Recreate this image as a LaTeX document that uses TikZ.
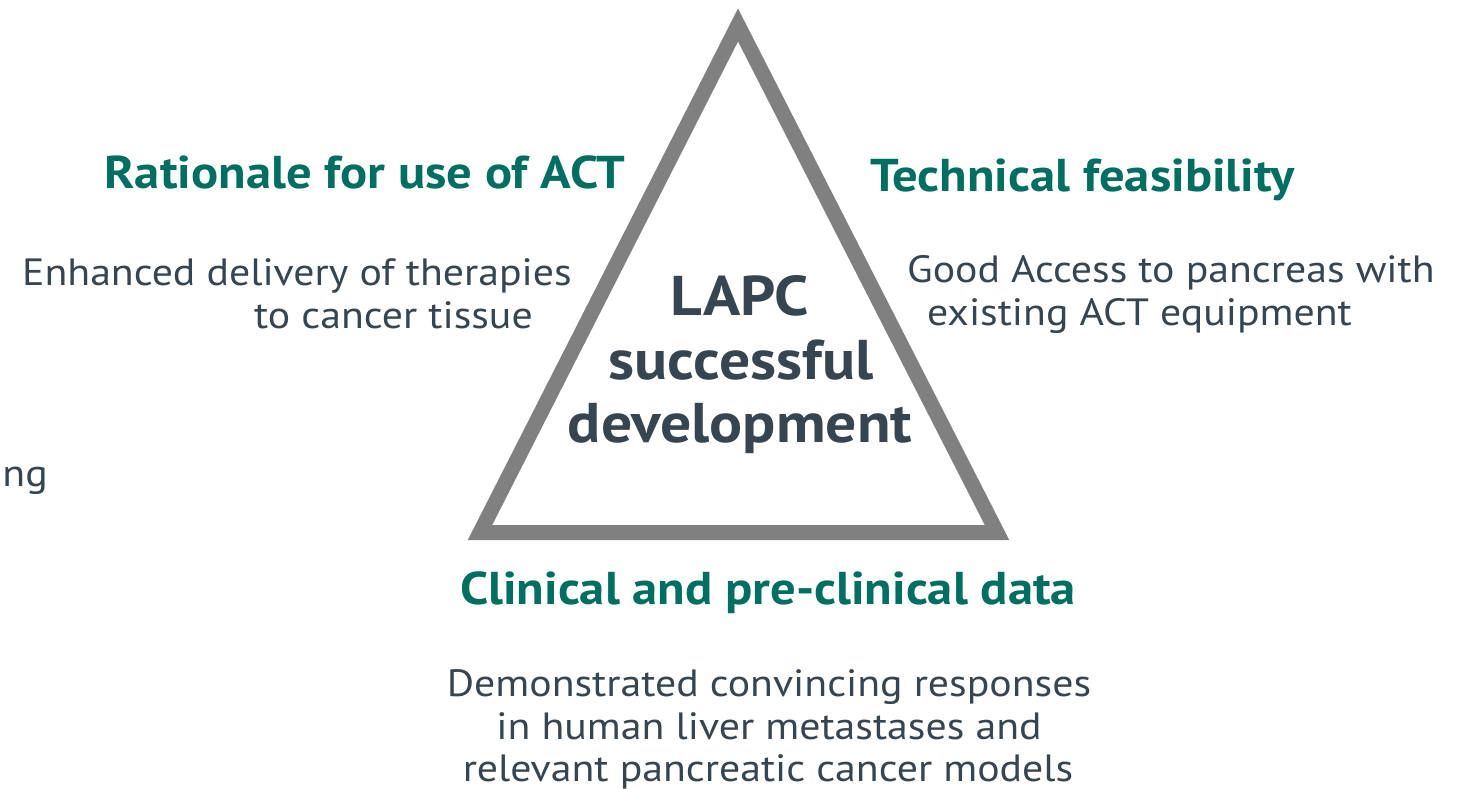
\documentclass[tikz,border=0pt]{standalone}
\usepackage{fontspec}
\setmainfont{PT Sans}[FakeStretch=1.1]
\definecolor{headteal}{HTML}{006E60}
\definecolor{bodyslate}{HTML}{36454F}
\definecolor{trigray}{HTML}{808080}
\begin{document}
\begin{tikzpicture}[x=1pt,y=-1pt,
  headtext/.style={font=\fontsize{46}{52}\selectfont\bfseries, text=headteal, inner sep=0pt},
  bodytext/.style={font=\fontsize{38}{43}\selectfont, text=bodyslate, inner sep=0pt},
  centretext/.style={font=\fontsize{56}{64}\selectfont\bfseries, text=bodyslate, inner sep=0pt},
  triline/.style={draw=trigray, line width=15pt, line join=miter}]
\useasboundingbox (0,0) rectangle (1470,788);
\fill[white] (0,0) rectangle (1470,788);
% triangle
\coordinate (apex) at (738,25);
\coordinate (bl) at (480,532.5);
\coordinate (br) at (997,532.5);
\draw[triline] (apex) -- (bl) -- (br) -- cycle;
% centre
\node[centretext, anchor=base] (c1) at (740,315) {LAPC};
\node[centretext, anchor=base] (c2) at (741,379) {successful};
\node[centretext, anchor=base] (c3) at (740,442) {development};
% left
\node[headtext, anchor=base east] (h1) at (625,188) {Rationale for use of ACT};
\node[bodytext, anchor=base east] (l1) at (572,285) {Enhanced delivery of therapies};
\node[bodytext, anchor=base east] (l2) at (533,328) {to cancer tissue};
% right
\node[headtext, anchor=base west] (h2) at (870,191) {Technical feasibility};
\node[bodytext, anchor=base west] (r1) at (907,282) {Good Access to pancreas with};
\node[bodytext, anchor=base west] (r2) at (927,325) {existing ACT equipment};
% bottom
\node[headtext, anchor=base] (h3) at (768,604) {Clinical and pre-clinical data};
\node[bodytext, anchor=base] (b1) at (769,696) {Demonstrated convincing responses};
\node[bodytext, anchor=base] (b2) at (769,739) {in human liver metastases and};
\node[bodytext, anchor=base] (b3) at (768,781) {relevant pancreatic cancer models};
% cut-off text
\node[bodytext, anchor=base east] (cut) at (48,486) {ng};
\end{tikzpicture}
\end{document}
